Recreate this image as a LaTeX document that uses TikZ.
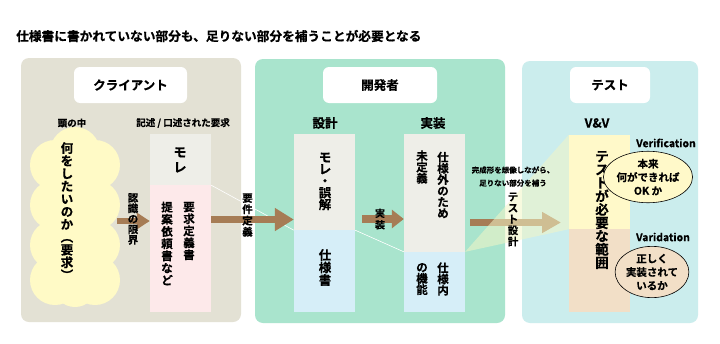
\documentclass[tikz,border=0pt]{standalone}
\usepackage{fontspec}
\setmainfont{Noto Sans CJK JP}[BoldFont={Noto Sans CJK JP Bold},BoldFeatures={FakeBold=0.5}]
\usetikzlibrary{arrows.meta,shapes.geometric}
\definecolor{clientbg}{HTML}{E3E1D4}
\definecolor{devbg}{HTML}{A9E4CD}
\definecolor{testbg}{HTML}{CBEDED}
\definecolor{graybox}{HTML}{EEEEE8}
\definecolor{pinkbox}{HTML}{FDE9EA}
\definecolor{bluebox}{HTML}{D6EEF8}
\definecolor{yelbox}{HTML}{FFF9C9}
\definecolor{beigebox}{HTML}{F2DFC7}
\definecolor{cloudc}{HTML}{FFFAC6}
\definecolor{arrowc}{HTML}{A67C55}
\definecolor{beamc}{HTML}{F2F6C6}
\newcommand\vfs[2]{\fontsize{#1}{#2}\selectfont\bfseries}
\begin{document}
\begin{tikzpicture}[x=1pt,y=-1pt,
  panel/.style={rounded corners=8pt, inner sep=0pt, draw=none},
  ttlbox/.style={fill=white, rounded corners=6pt, inner sep=0pt, minimum height=36pt, font=\vfs{12.5}{14}},
  box/.style={inner sep=0pt, draw=none, minimum width=61pt},
  vt/.style={align=center, inner sep=0pt},
  lbl/.style={inner sep=0pt},
  bigarrow/.style={draw=arrowc, line width=#1},
  oval/.style={ellipse, draw=black, line width=0.6pt, inner sep=0pt, align=center, font=\vfs{10.5}{13.5}}
]
\useasboundingbox (0,0) rectangle (720,343);
\fill[white] (0,0) rectangle (720,343);

% title
\node[anchor=west, lbl, font=\vfs{12.7}{15}] (title) at (16,36) {仕様書に書かれていない部分も、足りない部分を補うことが必要となる};

% panels
\node[panel, fill=clientbg, minimum width=220pt, minimum height=264pt] (client) at (131,190) {};
\node[panel, fill=devbg, minimum width=250pt, minimum height=264pt] (dev) at (380,191) {};
\node[panel, fill=testbg, minimum width=176pt, minimum height=262pt] (test) at (610,192) {};

% panel titles
\node[ttlbox, minimum width=113pt] (tclient) at (130.5,85) {クライアント};
\node[ttlbox, minimum width=114pt] (tdev) at (380,85) {開発者};
\node[ttlbox, minimum width=80pt] (ttest) at (610,85) {テスト};

% cloud
\begin{scope}
\fill[cloudc] (75,152) circle[radius=25pt];
\foreach \yy in {165,205,245,280}{
  \fill[cloudc] (55,\yy) circle[radius=25pt];
  \fill[cloudc] (95,\yy) circle[radius=25pt];
}
\fill[cloudc] (75,285) circle[radius=22pt];
\fill[cloudc] (50,150) rectangle (100,290);
\end{scope}

% sub labels
\node[lbl, font=\vfs{9.5}{11}] (head) at (72,123) {頭の中};
\node[lbl, font=\vfs{9.5}{11}] (said) at (183,123) {記述 / 口述された要求};
\node[lbl, font=\vfs{12.5}{14}] (design) at (325,123) {設計};
\node[lbl, font=\vfs{12.5}{14}] (impl) at (433,123) {実装};
\node[lbl, font=\vfs{12.5}{14}] (vv) at (597,123) {V\&V};

% client boxes
\node[box, fill=graybox, minimum height=51pt] (mole) at (180.5,159.5) {};
\node[box, fill=pinkbox, minimum height=127pt] (req) at (180.5,248.5) {};

% developer boxes
\node[box, fill=graybox, minimum height=96pt] (dtop) at (324.5,182) {};
\node[box, fill=bluebox, minimum height=82pt] (dbot) at (324.5,271) {};
\node[box, fill=graybox, minimum height=118pt] (itop) at (434.5,193) {};
\node[box, fill=bluebox, minimum height=60pt] (ibot) at (434.5,282) {};

% test boxes
\node[box, fill=yelbox, minimum height=94pt] (ttop) at (599.5,182) {};
\node[box, fill=beigebox, minimum height=83pt] (tbot) at (599.5,270.5) {};

% thin white lines
\draw[white, line width=0.6pt] (mole.south east) -- (dtop.south west);
\draw[white, line width=0.6pt] (dtop.south east) -- (ibot.north west);

% arrows
\coordinate (a1s) at (117,221);
\coordinate (a1e) at (req.west |- a1s);
\draw[bigarrow=6pt, -{Triangle[length=13pt,width=16pt]}] (a1s) -- (a1e);
\coordinate (a2s) at (mole.east |- 0,219.5);
\coordinate (a2e) at (dtop.west |- a2s);
\draw[bigarrow=7pt, -{Triangle[length=19pt,width=22pt]}] (a2s) -- (a2e);
\coordinate (a3s) at (362,219);
\coordinate (a3e) at (itop.west |- a3s);
\draw[bigarrow=8pt, -{Triangle[length=12pt,width=18pt]}] (a3s) -- (a3e);
\coordinate (a4s) at (470,222.5);
\coordinate (a4e) at (561,222.5);
\draw[bigarrow=7pt, -{Triangle[length=19pt,width=20pt]}] (a4s) -- (a4e);

% beam
\fill[beamc, opacity=0.55] (ibot.north east) -- (ttop.north west) -- (ttop.south west) -- cycle;

% vertical texts
\node[vt, font=\vfs{12.5}{12.7}] (cloudtxt) at (67,211) {何\\を\\し\\た\\い\\の\\か\\︵\\要\\求\\︶};
\node[vt, font=\vfs{13}{15}] (moletxt) at (180,160) {モ\\レ};
\node[vt, font=\vfs{11.5}{12}] (reqtxt) at (189,231) {要\\求\\定\\義\\書};
\node[vt, font=\vfs{11.5}{12.2}] (rfptxt) at (167,243.5) {提\\案\\依\\頼\\書\\な\\ど};
\node[vt, font=\vfs{12.5}{11.8}] (misstxt) at (325,181.5) {モ\\レ\\・\\誤\\解};
\node[vt, font=\vfs{12.5}{12.5}] (spectxt) at (325,267.5) {仕\\様\\書};
\node[vt, font=\vfs{11.5}{11.2}] (outtxt) at (443,185) {仕\\様\\外\\の\\た\\め};
\node[vt, font=\vfs{11.5}{11.2}] (undeftxt) at (422,167) {未\\定\\義};
\node[vt, font=\vfs{11.5}{11.2}] (intxt) at (443,279) {仕\\様\\内};
\node[vt, font=\vfs{11.5}{11.2}] (functxt) at (422,279) {の\\機\\能};
\node[vt, font=\vfs{13.5}{13.3}] (rangetxt) at (602,210) {テ\\ス\\ト\\が\\必\\要\\な\\範\\囲};

% arrow labels
\node[vt, font=\vfs{10.5}{10.5}] (l1) at (133,219) {認\\識\\の\\限\\界};
\node[vt, font=\vfs{10.5}{11.3}] (l2) at (247.5,215) {要\\件\\定\\義};
\node[vt, font=\vfs{10}{11.5}] (l3) at (380,219) {実\\装};
\node[vt, font=\vfs{10.5}{11.2}] (l4) at (513,219.5) {テ\\ス\\ト\\設\\計};

% test design note
\node[vt, font=\vfs{7.5}{13}] (note) at (513,176.5) {完成形を想像しながら、\\足りない部分を補う};

% V&V
\node[lbl, font=\vfs{10.5}{12}] (verif) at (666,143) {Verification};
\node[oval, fill=yelbox, minimum width=70pt, minimum height=45pt] (e1) at (648,177) {本来\\何ができれば\\OK か};
\node[lbl, font=\vfs{10.5}{12}] (varid) at (663,237) {Varidation};
\node[oval, fill=beigebox, minimum width=71pt, minimum height=45pt] (e2) at (652,272) {正しく\\実装されて\\いるか};
\end{tikzpicture}
\end{document}
